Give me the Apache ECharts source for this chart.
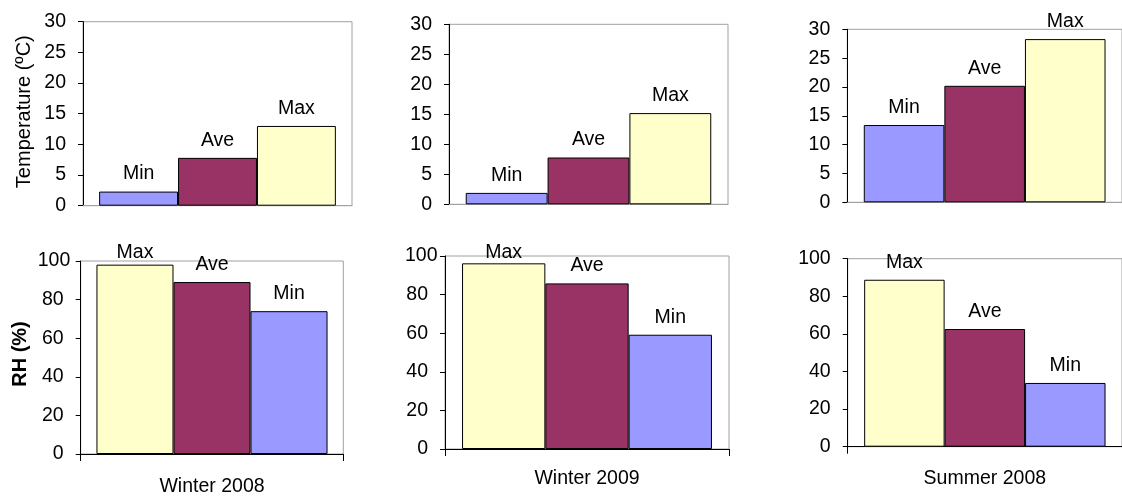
<!DOCTYPE html>
<html>
<head>
<meta charset="utf-8">
<script src="https://cdn.jsdelivr.net/npm/echarts@6/dist/echarts.min.js"></script>
<style>
  html, body { margin: 0; padding: 0; background: #fff; }
  #chart { width: 1122px; height: 497px; }
</style>
</head>
<body>
<div id="chart"></div>
<script>
// Seasons shown in each column
const categories = ['Winter 2008', 'Winter 2009', 'Summer 2008'];

// Air temperature (°C) per season
const tempMin = [2.3, 1.9, 13.4];
const tempAve = [7.8, 7.8, 20.2];
const tempMax = [13.0, 15.2, 28.3];

// Relative humidity (%) per season
const rhMax = [98.1, 96.2, 88.8];
const rhAve = [89.1, 85.8, 62.6];
const rhMin = [74.0, 59.2, 33.9];

// Value axis ticks
const tempTicks = [0, 5, 10, 15, 20, 25, 30];
const rhTicks = [0, 20, 40, 60, 80, 100];

const FONT = "'Liberation Sans', Arial, sans-serif";
const FS = 19.5;
const COLORS = { Min: '#9999FF', Ave: '#993366', Max: '#FFFFCC' };

// Plot-area boxes, one per panel (row 0 = temperature, row 1 = RH)
const boxes = [
  { left: 83,    top: 21.7,  width: 269, height: 184 },
  { left: 449,   top: 24.3,  width: 279, height: 180 },
  { left: 847.3, top: 29.3,  width: 278, height: 173 },
  { left: 80.7,  top: 261,   width: 262.6, height: 193.3 },
  { left: 445,   top: 256,   width: 284, height: 193 },
  { left: 847.7, top: 258.7, width: 278, height: 188 }
];
// Category label spacing below the RH panels
const catMargin = [23, 20, 22];
// Labels that sit closer to their bar because they meet the plot top
const labelLift = { 3: { Max: 2 }, 4: { Max: 1 } };
// RH panels whose "100" tick label is drawn nudged toward the axis
const nudge100 = { 3: 7, 4: 10 };

const grids = [], xAxes = [], yAxes = [], series = [];

function addPanel(idx, col, isTemp) {
  const b = boxes[idx];
  grids.push({
    left: b.left, top: b.top, width: b.width, height: b.height,
    show: true, borderColor: '#a0a0a0', borderWidth: 1, backgroundColor: 'transparent'
  });
  xAxes.push({
    type: 'category', gridIndex: idx, data: [categories[col]],
    axisLine: { show: true, lineStyle: { color: isTemp ? '#a0a0a0' : '#000', width: 1 } },
    axisTick: { show: !isTemp, length: 7, interval: 0, lineStyle: { color: '#000' } },
    axisLabel: {
      show: !isTemp, margin: catMargin[col], color: '#000',
      fontFamily: FONT, fontSize: FS
    }
  });
  const ticks = isTemp ? tempTicks : rhTicks;
  const nudge = nudge100[idx];
  yAxes.push({
    type: 'value', gridIndex: idx,
    min: ticks[0], max: ticks[ticks.length - 1], interval: ticks[1] - ticks[0],
    splitLine: { show: false },
    axisLine: { show: true, lineStyle: { color: '#000', width: 1 } },
    axisTick: { show: true, length: 5, lineStyle: { color: '#000' } },
    axisLabel: {
      margin: 17, color: '#000', fontFamily: FONT, fontSize: FS,
      formatter: v => (nudge && v === 100) ? '{n|' + v + '}' : String(v),
      rich: nudge ? {
        n: { fontFamily: FONT, fontSize: FS, color: '#000', width: 33 - nudge, align: 'left' }
      } : undefined
    }
  });
  const order = isTemp ? ['Min', 'Ave', 'Max'] : ['Max', 'Ave', 'Min'];
  const src = isTemp
    ? { Min: tempMin, Ave: tempAve, Max: tempMax }
    : { Max: rhMax, Ave: rhAve, Min: rhMin };
  order.forEach(name => {
    const lift = labelLift[idx] && labelLift[idx][name];
    const item = { value: src[name][col] };
    if (lift !== undefined) item.label = { distance: lift };
    series.push({
      name, type: 'bar', xAxisIndex: idx, yAxisIndex: idx,
      data: [item],
      barGap: '0%', barCategoryGap: '12%',
      itemStyle: { color: COLORS[name], borderColor: '#000', borderWidth: 1 },
      label: {
        show: true, position: 'top', distance: 7.5, formatter: name,
        color: '#000', fontFamily: FONT, fontSize: FS
      },
      emphasis: { disabled: true },
      animation: false
    });
  });
}

for (let c = 0; c < 3; c++) addPanel(c, c, true);
for (let c = 0; c < 3; c++) addPanel(3 + c, c, false);

const chart = echarts.init(document.getElementById('chart'), null, { renderer: 'canvas' });
chart.setOption({
  animation: false,
  backgroundColor: '#ffffff',
  grid: grids,
  xAxis: xAxes,
  yAxis: yAxes,
  series: series,
  graphic: [
    {
      type: 'text', x: 24, y: 111.7, rotation: Math.PI / 2,
      style: {
        text: 'Temperature (ºC)', fontFamily: FONT, fontSize: 20, fill: '#000',
        textAlign: 'center', textVerticalAlign: 'middle'
      }
    },
    {
      type: 'text', x: 20, y: 354, rotation: Math.PI / 2,
      style: {
        text: 'RH (%)', fontFamily: FONT, fontSize: 20, fontWeight: 'bold', fill: '#000',
        textAlign: 'center', textVerticalAlign: 'middle'
      }
    }
  ]
});
</script>
</body>
</html>
